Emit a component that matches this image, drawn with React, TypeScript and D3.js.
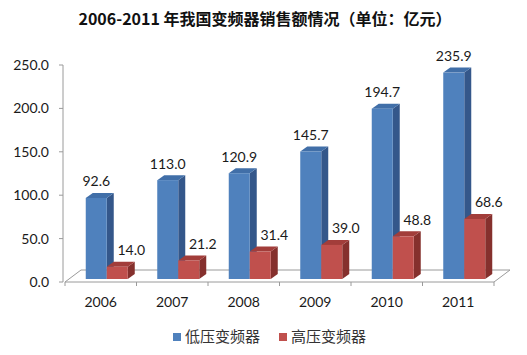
import React from "react";
import * as d3 from "d3";

const years = ["2006", "2007", "2008", "2009", "2010", "2011"];
const seriesNames = ["低压变频器", "高压变频器"];
const lowVoltage = [92.6, 113.0, 120.9, 145.7, 194.7, 235.9];
const highVoltage = [14.0, 21.2, 31.4, 39.0, 48.8, 68.6];
const yTicks = [0, 50, 100, 150, 200, 250];
const title = "2006-2011 年我国变频器销售额情况（单位：亿元）";

const W = 527;
const H = 355;
const DX = 7;
const DY = -5;
const FLOOR_DX = 16;
const FLOOR_DY = -12;

const colors = [
  { front: "#4F81BD", side: "#34578A", top: "#416FA8" },
  { front: "#C0504D", side: "#85302D", top: "#A23D3A" },
];

const numFont = "Lato, 'Open Sans', sans-serif";
const cjkFont = "'Noto Sans CJK SC', sans-serif";

export default function App() {
  const x = d3.scaleBand<string>().domain(years).range([65, 494]).padding(0);
  const axisY = d3.scaleLinear().domain([0, 250]).range([282, 65]);
  const barY = d3.scaleLinear().domain([0, 250]).range([279, 60.25]);
  const inner = d3.scaleBand<string>().domain(seriesNames).range([-15, 27]).padding(0);
  const data = [lowVoltage, highVoltage];

  const fmt = d3.format(".1f");
  const [x0, x1] = x.range();
  const floorY = axisY(0);

  return (
    <svg width={W} height={H} style={{ display: "block", position: "absolute", left: 0, top: 0 }}>
      <rect x={0} y={0} width={W} height={H} fill="#fff" />
      <text x={265} y={25} textAnchor="middle" fontFamily={cjkFont} fontWeight={700} fontSize={16} fill="#111">
        {title}
      </text>

      {/* floor */}
      <g stroke="#9a9a9a" strokeWidth={1} fill="none">
        <line x1={x0} y1={floorY} x2={x1} y2={floorY} />
        <line x1={x0 + FLOOR_DX} y1={floorY + FLOOR_DY} x2={x1 + FLOOR_DX} y2={floorY + FLOOR_DY} />
        <line x1={x0} y1={floorY} x2={x0 + FLOOR_DX} y2={floorY + FLOOR_DY} />
        <line x1={x1} y1={floorY} x2={x1 + FLOOR_DX} y2={floorY + FLOOR_DY} />
      </g>

      {/* y axis */}
      <g>
        <line x1={63} y1={axisY(250)} x2={63} y2={floorY} stroke="#9a9a9a" />
        {yTicks.map((t) => (
          <g key={t}>
            <line x1={59} y1={axisY(t)} x2={63} y2={axisY(t)} stroke="#9a9a9a" />
            <text x={49} y={axisY(t) + 5} textAnchor="end" fontFamily={numFont} fontSize={14} fill="#1a1a1a">
              {fmt(t)}
            </text>
          </g>
        ))}
      </g>

      {/* x ticks and labels */}
      <g>
        {years.map((yr, i) => (
          <line key={"t" + i} x1={x(yr)!} y1={floorY} x2={x(yr)!} y2={floorY + 4} stroke="#9a9a9a" />
        ))}
        <line x1={x1} y1={floorY} x2={x1} y2={floorY + 4} stroke="#9a9a9a" />
        {years.map((yr) => (
          <text key={yr} x={x(yr)! + x.bandwidth() / 2} y={307} textAnchor="middle" fontFamily={numFont} fontSize={14} fill="#1a1a1a">
            {yr}
          </text>
        ))}
      </g>

      {/* bars */}
      {years.map((yr, i) => {
        const c = x(yr)! + x.bandwidth() / 2;
        return (
          <g key={yr}>
            {seriesNames.map((s, si) => {
              const v = data[si][i];
              const bx0 = c + inner(s)!;
              const bx1 = bx0 + inner.bandwidth();
              const yt = barY(v);
              const yb = barY(0);
              const col = colors[si];
              return (
                <g key={s}>
                  <polygon
                    points={`${bx1},${yt} ${bx1 + DX},${yt + DY} ${bx1 + DX},${yb + DY} ${bx1},${yb}`}
                    fill={col.side}
                  />
                  <polygon
                    points={`${bx0},${yt} ${bx0 + DX},${yt + DY} ${bx1 + DX},${yt + DY} ${bx1},${yt}`}
                    fill={col.top}
                  />
                  <rect x={bx0} y={yt} width={bx1 - bx0} height={yb - yt} fill={col.front} />
                </g>
              );
            })}
          </g>
        );
      })}

      {/* value labels */}
      {years.map((yr, i) => {
        const c = x(yr)! + x.bandwidth() / 2;
        return seriesNames.map((s, si) => {
          const v = data[si][i];
          const bx0 = c + inner(s)!;
          const mid = bx0 + inner.bandwidth() / 2 + (si === 1 ? 14 : 0);
          return (
            <text key={yr + s} x={mid} y={barY(v) - 11.5} textAnchor="middle" fontFamily={numFont} fontSize={14} fill="#1a1a1a">
              {fmt(v)}
            </text>
          );
        });
      })}

      {/* legend */}
      <g>
        {seriesNames.map((s, si) => {
          const lx = si === 0 ? 173 : 279;
          return (
            <g key={s}>
              <rect x={lx} y={333} width={8} height={8} fill={colors[si].front} />
              <text x={lx + 12} y={341.5} fontFamily={cjkFont} fontSize={15} fill="#333">
                {s}
              </text>
            </g>
          );
        })}
      </g>
    </svg>
  );
}
